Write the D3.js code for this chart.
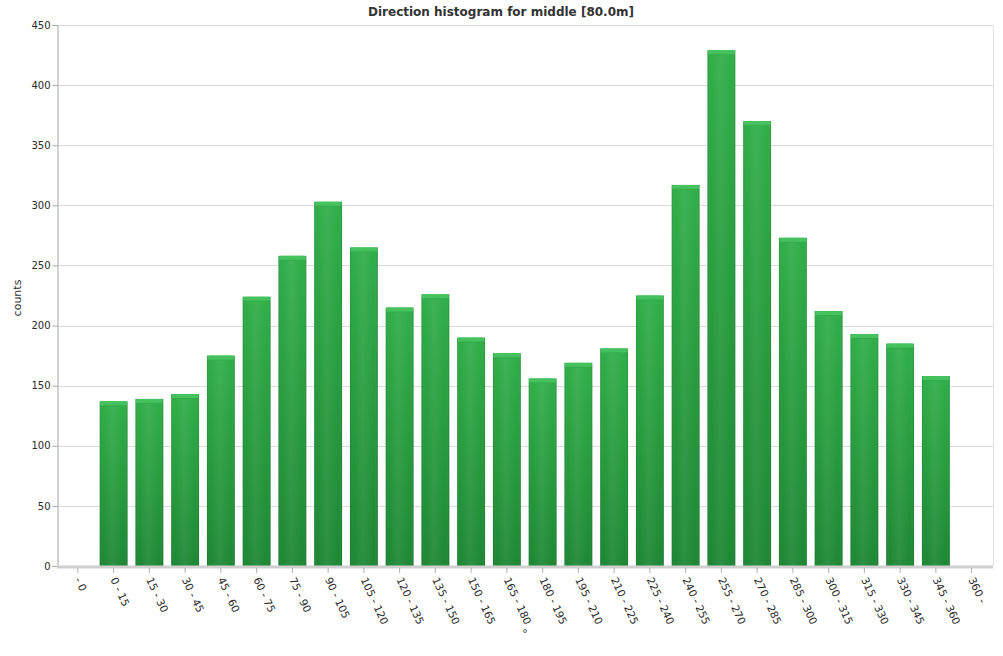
<!DOCTYPE html>
<html><head><meta charset="utf-8">
<script src="https://cdn.jsdelivr.net/npm/d3@7"></script>
<style>
html,body{margin:0;padding:0;background:#fff;}
svg{display:block;font-family:"DejaVu Sans",Verdana,sans-serif;}
</style></head>
<body>
<svg id="chart" width="1003" height="656"></svg>
<script>
const categories = ["- 0","0 - 15","15 - 30","30 - 45","45 - 60","60 - 75","75 - 90","90 - 105","105 - 120","120 - 135","135 - 150","150 - 165","165 - 180","180 - 195","195 - 210","210 - 225","225 - 240","240 - 255","255 - 270","270 - 285","285 - 300","300 - 315","315 - 330","330 - 345","345 - 360","360 -"];
const counts = [0,137,139,143,175,224,258,303,265,215,226,190,177,156,169,181,225,317,429,370,273,212,193,185,158,0];
const yTicks = [0,50,100,150,200,250,300,350,400,450];
const titleText = "Direction histogram for middle [80.0m]";
const xTitle = "°";
const yTitle = "counts";

(function(){
const svg = d3.select("#chart");
const pLeft = 57, pRight = 993, pTop = 25, pBottom = 566;

const x = d3.scaleBand().domain(categories).range([60, 989.5]).paddingInner(0.22).paddingOuter(0.11);
const y = d3.scaleLinear().domain([0, 450]).range([pBottom, pTop]);

const defs = svg.append("defs");
const gv = defs.append("linearGradient").attr("id","gv").attr("x1",0).attr("y1",0).attr("x2",0).attr("y2",1);
gv.append("stop").attr("offset","0%").attr("stop-color","#30ae48");
gv.append("stop").attr("offset","100%").attr("stop-color","#1d8733");
const gh = defs.append("linearGradient").attr("id","gh").attr("x1",0).attr("y1",0).attr("x2",1).attr("y2",0);
gh.append("stop").attr("offset","0%").attr("stop-color","#000").attr("stop-opacity",0.12);
gh.append("stop").attr("offset","12%").attr("stop-color","#fff").attr("stop-opacity",0.0);
gh.append("stop").attr("offset","45%").attr("stop-color","#fff").attr("stop-opacity",0.07);
gh.append("stop").attr("offset","88%").attr("stop-color","#fff").attr("stop-opacity",0.0);
gh.append("stop").attr("offset","100%").attr("stop-color","#000").attr("stop-opacity",0.14);

// gridlines
svg.append("g").selectAll("line").data(yTicks.filter(d=>d>0)).join("line")
  .attr("x1", pLeft).attr("x2", pRight)
  .attr("y1", d=>Math.round(y(d))+0.5).attr("y2", d=>Math.round(y(d))+0.5)
  .attr("stroke","#dcdcdc").attr("stroke-width",1);

// right border
svg.append("line").attr("x1",pRight+0.5).attr("x2",pRight+0.5).attr("y1",pTop).attr("y2",pBottom)
  .attr("stroke","#e2e2e2");

// y axis
const yAxis = d3.axisLeft(y).tickValues(yTicks).tickSize(5).tickPadding(2);
const gy = svg.append("g").attr("transform",`translate(${pLeft+0.5},0)`).call(yAxis);
gy.select(".domain").attr("stroke","#a8a8a8");
gy.selectAll(".tick line").attr("stroke","#a8a8a8");
gy.selectAll(".tick text").attr("fill","#2a2a2a").attr("font-size","10px").attr("font-family","DejaVu Sans, Verdana, sans-serif");

// bars
const bars = svg.append("g").selectAll("g").data(categories.map((c,i)=>({c, v: counts[i]})).filter(d=>d.v>0)).join("g");
bars.append("rect")
  .attr("x", d=>x(d.c)).attr("width", x.bandwidth())
  .attr("y", d=>y(d.v)).attr("height", d=>y(0)-y(d.v))
  .attr("fill","url(#gv)");
bars.append("rect")
  .attr("x", d=>x(d.c)).attr("width", x.bandwidth())
  .attr("y", d=>y(d.v)).attr("height", d=>y(0)-y(d.v))
  .attr("fill","url(#gh)");
bars.append("rect")
  .attr("x", d=>x(d.c)+0.5).attr("width", x.bandwidth()-1)
  .attr("y", d=>y(d.v)).attr("height", 5).attr("rx",2)
  .attr("fill","#45c25d");
bars.append("rect")
  .attr("x", d=>x(d.c)+1).attr("width", x.bandwidth()-2)
  .attr("y", d=>y(d.v)+4).attr("height", 1)
  .attr("fill","#27993e").attr("opacity",0.6);

// baseline
svg.append("rect").attr("x", pLeft).attr("y", pBottom-0.5).attr("width", pRight-pLeft).attr("height", 3)
  .attr("fill","#cfcfcf");

// x axis ticks + labels
const xAxis = d3.axisBottom(x).tickSize(5).tickPadding(0);
const gx = svg.append("g").attr("transform",`translate(0,${pBottom+2})`).call(xAxis);
gx.select(".domain").remove();
gx.selectAll(".tick line").attr("stroke","#b0b0b0");
gx.selectAll(".tick text")
  .attr("fill","#2a2a2a").attr("font-size","10.5px").attr("font-family","DejaVu Sans, Verdana, sans-serif")
  .attr("text-anchor","start")
  .attr("dy","0.35em")
  .attr("transform","translate(0,10) rotate(65)")
  .attr("x",0).attr("y",0);

// titles
svg.append("text").attr("x", 501).attr("y", 16).attr("text-anchor","middle")
  .attr("font-size","12px").attr("font-weight","bold").attr("fill","#333").text(titleText);
svg.append("text").attr("x", 525).attr("y", 637).attr("text-anchor","middle")
  .attr("font-size","11px").attr("fill","#333").text(xTitle);
svg.append("text").attr("transform","translate(21,298) rotate(-90)").attr("text-anchor","middle")
  .attr("font-size","11px").attr("fill","#333").text(yTitle);
})();
</script>
</body></html>
